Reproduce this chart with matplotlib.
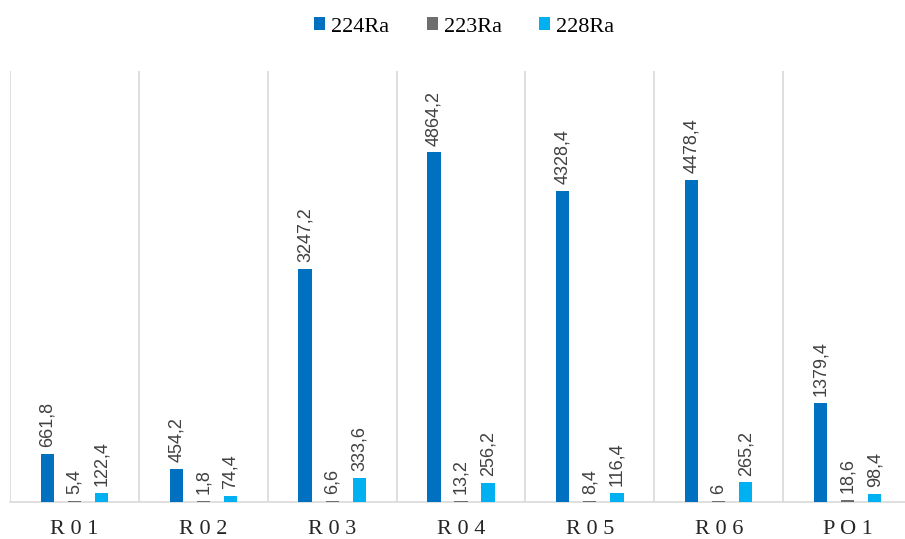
import matplotlib
matplotlib.use("Agg")
import matplotlib.pyplot as plt
import numpy as np

categories = ["R01", "R02", "R03", "R04", "R05", "R06", "PO1"]
ra224 = [661.8, 454.2, 3247.2, 4864.2, 4328.4, 4478.4, 1379.4]
ra223 = [5.4, 1.8, 6.6, 13.2, 8.4, 6, 18.6]
ra228 = [122.4, 74.4, 333.6, 256.2, 116.4, 265.2, 98.4]
series_names = ["224Ra", "223Ra", "228Ra"]
colors = ["#0070C0", "#6E6E6E", "#00B0F0"]

fig = plt.figure(figsize=(9.05, 5.39), dpi=100)
W, H = 905, 539
ax = fig.add_axes([10 / W, (H - 501.5) / H, 902 / W, 430.5 / H])

x = np.arange(len(categories))
width = 0.103
offset = 0.21
label_font = {"family": "Liberation Sans", "size": 13, "color": "#404040"}

for i, (vals, name, col) in enumerate(zip([ra224, ra223, ra228], series_names, colors)):
    pos = x + (i - 1) * offset
    ax.bar(pos, vals, width=width, color=col, label=name, zorder=3)
    for p, v in zip(pos, vals):
        txt = f"{v:g}".replace(".", ",")
        ax.annotate(txt, (p, v), xytext=(0, 5), textcoords="offset points",
                    rotation=90, ha="center", va="bottom", **label_font)

ax.set_xlim(-0.5, len(categories) - 0.5)
ax.set_ylim(0, 6000)

# vertical separators between categories
for b in np.arange(-0.5, len(categories), 1.0):
    ax.axvline(b, color="#D9D9D9", lw=1.2, zorder=1)

for s in ["top", "right", "left"]:
    ax.spines[s].set_visible(False)
ax.spines["bottom"].set_color("#D9D9D9")
ax.spines["bottom"].set_linewidth(1.2)
ax.set_yticks([])
ax.set_xticks(x)
ax.set_xticklabels([" ".join(c) for c in categories],
                   fontfamily="Liberation Serif", fontsize=16, color="#262626")
ax.tick_params(axis="x", length=0, pad=13)

leg = fig.legend(loc="upper center", bbox_to_anchor=(0.513, 1.005), ncol=3, frameon=False,
                 prop={"family": "Liberation Serif", "size": 16},
                 handlelength=0.5, handleheight=0.5, handletextpad=0.25, columnspacing=1.7)

fig.savefig("out.png", dpi=100)
